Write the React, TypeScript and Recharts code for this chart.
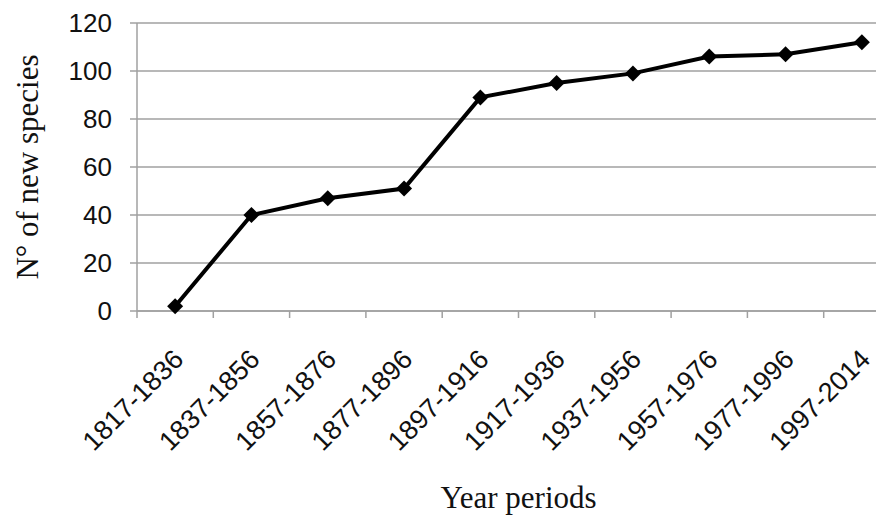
import React from 'react';
import { LineChart, Line, XAxis, YAxis, CartesianGrid } from 'recharts';

const categories = [
  '1817-1836',
  '1837-1856',
  '1857-1876',
  '1877-1896',
  '1897-1916',
  '1917-1936',
  '1937-1956',
  '1957-1976',
  '1977-1996',
  '1997-2014',
];
const newSpecies = [2, 40, 47, 51, 89, 95, 99, 106, 107, 112];
const yTicks = [0, 20, 40, 60, 80, 100, 120];
const yTitle = 'N° of new species';
const xTitle = 'Year periods';

const data = categories.map((period, i) => ({ x: i + 0.5, period, value: newSpecies[i] }));
const xTicks: number[] = [];
categories.forEach((_, i) => {
  xTicks.push(i);
  xTicks.push(i + 0.5);
});
xTicks.push(categories.length);

const GRID = '#a0a0a0';
const SANS = '"Liberation Sans", Arial, sans-serif';
const SERIF = '"Liberation Serif", "Times New Roman", serif';

const XTick = (props: any) => {
  const { x, y, payload } = props;
  const v = payload.value as number;
  if (Number.isInteger(v)) {
    return <line x1={x} y1={y} x2={x} y2={y + 7} stroke={GRID} strokeWidth={1.5} />;
  }
  const label = categories[Math.floor(v)];
  const px = x + 10;
  const py = y + 50;
  return (
    <text
      x={0}
      y={0}
      transform={`translate(${px},${py}) rotate(-45)`}
      textAnchor="end"
      fontSize={27}
      fontFamily={SANS}
      fill="#111"
    >
      {label}
    </text>
  );
};

const YTick = (props: any) => {
  const { x, y, payload } = props;
  return (
    <text x={x} y={y} dy={9} textAnchor="end" fontSize={26} fontFamily={SANS} fill="#111">
      {payload.value}
    </text>
  );
};

const Diamond = (props: any) => {
  const { cx, cy } = props;
  if (cx == null || cy == null) return null;
  const r = 8;
  return <path d={`M${cx},${cy - r}L${cx + r},${cy}L${cx},${cy + r}L${cx - r},${cy}Z`} fill="#000" />;
};

export default function App() {
  return (
    <div style={{ position: 'absolute', left: 0, top: 0, width: 876, height: 524, overflow: 'hidden', background: '#fff' }}>
      <LineChart width={910} height={524} data={data} margin={{ top: 23, right: 10, left: 0, bottom: 0 }}>
        <CartesianGrid vertical={false} stroke={GRID} strokeWidth={1.5} />
        <XAxis
          dataKey="x"
          type="number"
          domain={[0, categories.length]}
          ticks={xTicks}
          interval={0}
          height={213}
          tickSize={0}
          tickMargin={0}
          tickLine={false}
          axisLine={{ stroke: GRID, strokeWidth: 1.5 }}
          tick={<XTick />}
          label={(p: any) => {
            const vb = p.viewBox || {};
            return (
              <text
                x={vb.x + vb.width / 2}
                y={508}
                textAnchor="middle"
                fontSize={31}
                fontFamily={SERIF}
                fill="#111"
              >
                {xTitle}
              </text>
            );
          }}
        />
        <YAxis
          domain={[0, 120]}
          ticks={yTicks}
          width={137}
          tickSize={7}
          tickMargin={18}
          tickLine={{ stroke: GRID, strokeWidth: 1.5 }}
          axisLine={{ stroke: GRID, strokeWidth: 1.5 }}
          tick={<YTick />}
          label={(p: any) => {
            const vb = p.viewBox || {};
            const cy = vb.y + vb.height / 2;
            return (
              <text
                x={0}
                y={0}
                transform={`translate(38,${cy}) rotate(-90)`}
                textAnchor="middle"
                fontSize={31}
                fontFamily={SERIF}
                fill="#111"
              >
                {yTitle}
              </text>
            );
          }}
        />
        <Line
          type="linear"
          dataKey="value"
          stroke="#000"
          strokeWidth={4}
          dot={<Diamond />}
          activeDot={false}
          isAnimationActive={false}
        />
      </LineChart>
    </div>
  );
}
